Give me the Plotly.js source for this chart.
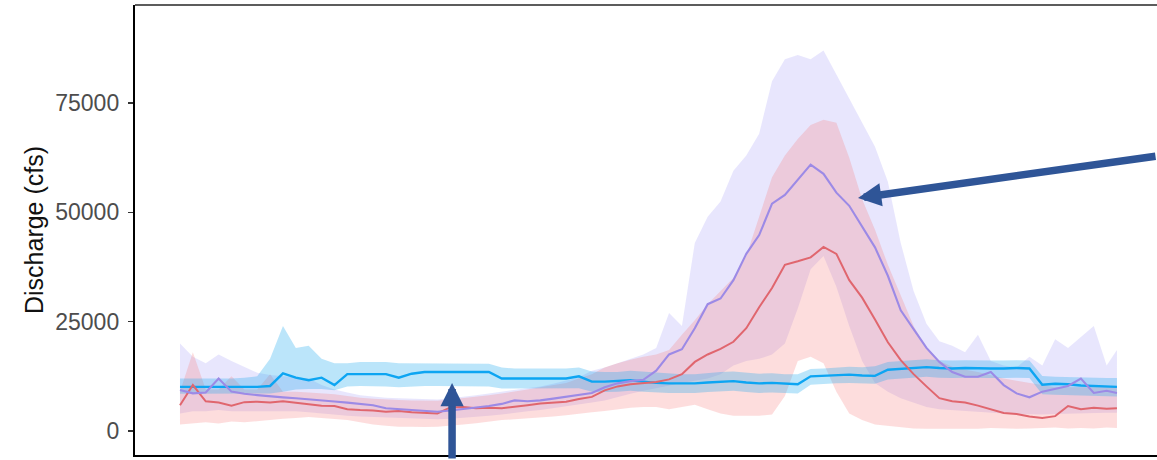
<!DOCTYPE html>
<html>
<head>
<meta charset="utf-8">
<script src="https://cdn.plot.ly/plotly-3.0.1.min.js"></script>
<style>html,body{margin:0;padding:0;overflow:hidden;background:#fff}</style>
</head>
<body>
<div id="chart" style="width:1157px;height:460px"></div>
<script>
// Day of water year (sampled every 5 days)
const day = [1,6,11,16,21,26,31,36,41,46,51,56,61,66,71,76,81,86,91,96,101,106,111,116,121,126,131,136,141,146,151,156,161,166,171,176,181,186,191,196,201,206,211,216,221,226,231,236,241,246,251,256,261,266,271,276,281,286,291,296,301,306,311,316,321,326,331,336,341,346,351,356,361,365];

// Blue series: median, lower, upper (cfs)
const blueMedian = [10100,10100,10100,10100,10100,10100,10100,10300,13200,12200,
 11600,12200,10500,13000,13000,13000,13000,12200,13100,13500,
 13500,13400,13500,13400,13500,12000,12000,12000,12000,12000,
 12000,12500,11300,11300,11400,11600,11300,11000,10900,10900,
 10900,11100,11300,11400,11100,10900,11000,10900,10700,12500,
 12600,12700,12900,12700,12600,14000,14200,14500,14600,14400,
 14300,14400,14300,14300,14300,14400,14300,10600,10800,10700,
 10400,10300,10200,10100];
const blueLower = [8500,8500,8500,8500,8500,8500,8500,8600,9000,9500,
 9600,9600,9300,10200,10300,10300,10200,10000,10200,10300,
 10300,10300,10200,10300,10200,9700,9700,9700,9700,9700,
 9700,9800,9000,8900,9000,9200,9000,8800,8700,8700,
 8700,8900,9100,9200,8900,8700,8800,8700,8600,10600,
 10800,10900,11000,10900,10800,11800,12000,12300,12400,12200,
 12100,12200,12100,12100,12100,12200,12100,8400,8300,8200,
 8100,8000,8000,7900];
const blueUpper = [12000,12000,12000,12000,12000,12200,12500,16500,24000,19000,
 19500,16500,15500,15500,15800,15800,15800,15500,15500,15500,
 15400,15400,15400,15400,15400,14500,14300,14300,14300,14300,
 14300,14500,13600,13500,13500,13800,13600,13400,13200,13000,
 13000,13300,13500,13600,13400,13100,13200,13000,13000,14200,
 14300,14500,14700,14600,14800,15800,16000,16300,16400,16200,
 16100,16200,16100,16100,16100,16200,16100,12600,12400,12300,
 12200,12200,12100,12100];

// Purple series
const purpleMedian = [9360,8600,8800,12000,9000,8500,8200,7900,7700,7500,
 7300,7000,6750,6500,6200,5900,5200,5000,4800,4600,
 4400,4700,5000,5300,5700,6200,7000,6800,7000,7400,
 7800,8200,8700,10000,10900,11400,11700,13800,17500,18700,
 23500,29000,30300,34500,40500,44800,52000,54000,57500,60900,
 58800,54500,51500,46800,42000,35500,27600,23300,19000,15800,
 13500,12400,12400,13500,10500,8600,7700,9000,9600,10300,
 12000,8700,9200,8700];
const purpleLower = [4000,4500,4500,4800,4500,4500,4500,4500,4500,4500,
 4300,4000,3800,3500,3300,3200,3000,3000,2800,2800,
 2700,2800,3000,3200,3500,3800,4200,4500,4800,5200,
 5600,6000,6500,7000,7800,8500,9200,9800,10500,11000,
 11500,12000,13000,15000,16000,16500,17500,20000,28000,37000,
 40000,33000,24000,16000,11000,9000,7500,6500,5500,5000,
 4800,4500,4300,4200,4000,3900,3800,3800,3900,4000,
 4000,4100,4200,4200];
const purpleUpper = [20000,17000,15500,17500,16000,14700,13300,12800,12500,12300,
 12000,10500,9500,8800,8200,7900,7600,7500,7400,7300,
 7200,7500,7800,8200,8600,9000,9500,9800,10200,10800,
 11500,12300,13800,14500,15500,16500,17500,19000,27000,24000,
 43000,49000,52500,59500,63000,68000,80000,85000,86000,85000,
 87000,81500,76000,70500,65000,57000,43000,32000,24500,20500,
 19500,18000,22000,16000,15000,14500,17000,15000,21000,19000,
 21500,24000,15000,18500];

// Red series
const redMedian = [5900,10500,6800,6500,5800,6600,6700,6500,6800,6500,
 6200,5800,5700,5000,4800,4700,4400,4600,4300,4100,
 4000,5400,5500,5200,5300,5200,5500,5900,6300,6500,
 6700,7300,7800,9300,10200,10700,10900,11200,11800,13000,
 15800,17500,18800,20400,23500,28300,32700,38000,38800,39700,
 42100,40500,34500,30500,25500,20300,16200,13000,10200,7500,
 6800,6500,5800,5000,4100,3900,3300,3000,3400,5700,
 5000,5300,5100,5200];
const redLower = [1500,1800,2000,1700,2200,2000,2300,2500,2800,3000,
 3200,3000,2800,2500,2000,1500,1200,1000,1000,900,
 1000,1200,1500,1800,2200,2500,2700,2900,3000,3300,
 3600,4000,4300,4600,5000,5300,5500,5500,5000,5500,
 6000,5000,4000,3500,3500,3500,3800,8000,16000,17000,
 15500,9000,4000,2500,1500,1200,800,600,500,500,
 500,600,500,700,600,500,600,700,800,600,
 700,600,800,700];
const redUpper = [9000,18000,9500,9500,12500,9500,9500,13000,9000,9000,
 8800,8600,8400,8000,7600,7400,7200,7100,7000,6900,
 6900,7200,7500,7800,8200,8600,9000,9500,10000,10500,
 11000,12000,13000,14500,15500,16300,17000,17500,18500,22000,
 25300,29000,32000,35000,40000,48800,58000,63000,66800,70000,
 71200,70500,62500,53000,46000,38000,31000,24000,19000,16000,
 14700,14000,13500,12800,12000,11500,11000,10500,10000,10000,
 10000,10000,10000,10000];

const yTicks = [0, 25000, 50000, 75000];
const yTickText = ["0", "25000", "50000", "75000"];

function band(lower, upper, fill) {
  return [
    {x: day, y: lower, type: 'scatter', mode: 'lines', line: {width: 0}, hoverinfo: 'skip', showlegend: false},
    {x: day, y: upper, type: 'scatter', mode: 'lines', line: {width: 0}, fill: 'tonexty', fillcolor: fill, hoverinfo: 'skip', showlegend: false}
  ];
}
function line(y, color, w) {
  return {x: day, y: y, type: 'scatter', mode: 'lines', line: {color: color, width: w}, showlegend: false};
}

const traces = [].concat(
  band(purpleLower, purpleUpper, 'rgba(150,140,245,0.22)'),
  band(redLower, redUpper, 'rgba(248,120,120,0.25)'),
  band(blueLower, blueUpper, 'rgba(30,170,240,0.30)'),
  [line(blueMedian, '#0DA5F2', 2.4),
   line(redMedian, '#E0666E', 2),
   line(purpleMedian, '#9C8AE6', 2.1)]
);

const arrowColor = '#2F5597';
const layout = {
  width: 1157, height: 460,
  margin: {l: 135, r: 0, t: 5, b: 5},
  paper_bgcolor: '#ffffff', plot_bgcolor: '#ffffff',
  font: {family: 'Liberation Sans, Arial, sans-serif'},
  xaxis: {range: [-16.48, 380.56], showgrid: false, zeroline: false, showline: true,
          linecolor: '#000', linewidth: 2.2, showticklabels: false, ticks: ''},
  yaxis: {range: [-5488, 97416], tickvals: yTicks, ticktext: yTickText,
          showgrid: false, zeroline: false, showline: true, linecolor: '#000', linewidth: 2.2,
          ticks: 'outside', ticklen: 5, tickwidth: 1.3, tickcolor: '#333',
          ticklabelstandoff: 4,
          tickfont: {size: 23, color: '#4d4d4d', family: 'Liberation Sans, Arial, sans-serif'},
          title: {text: 'Discharge (cfs)', standoff: 5,
                  font: {size: 25, color: '#111', family: 'Liberation Sans, Arial, sans-serif'}}},
  shapes: [
    {type: 'line', xref: 'paper', yref: 'paper', x0: 0, x1: 1, y0: 1, y1: 1,
     line: {color: '#5c5c5c', width: 2}}
  ],
  annotations: [
    {x: 264.4, y: 53280, xref: 'x', yref: 'y', text: '', showarrow: true,
     ax: 320, ay: -42, arrowhead: 2, arrowsize: 0.62, arrowwidth: 7.5, arrowcolor: arrowColor, standoff: 0},
    {x: 106.7, y: 10976, xref: 'x', yref: 'y', text: '', showarrow: true,
     ax: 0, ay: 100, arrowhead: 2, arrowsize: 0.62, arrowwidth: 7.5, arrowcolor: arrowColor, standoff: 0}
  ]
};

Plotly.newPlot('chart', traces, layout, {displayModeBar: false, staticPlot: true});
</script>
</body>
</html>
